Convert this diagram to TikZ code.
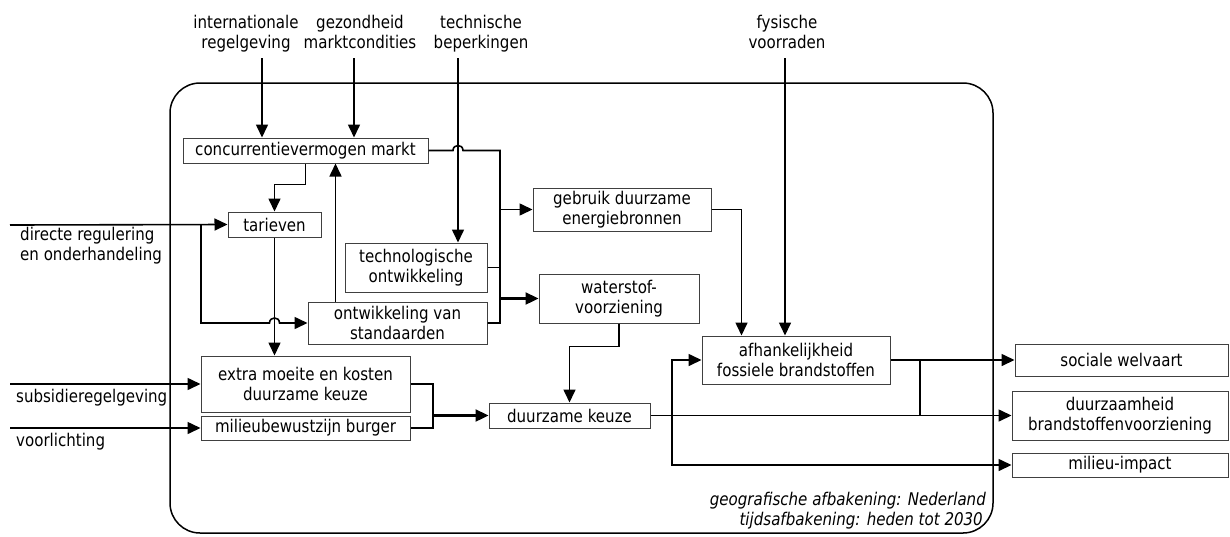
\documentclass[tikz,border=0pt]{standalone}
\usepackage{fontspec}
\setmainfont{DejaVu Sans}[FakeStretch=0.86]
\usetikzlibrary{arrows.meta}
\begin{document}
\begin{tikzpicture}[x=1pt,y=-1pt,
  every node/.style={font=\fontsize{17.5}{20}\selectfont},
  box/.style={draw=black!75, line width=1pt, align=center, inner sep=0pt},
  lab/.style={align=center, inner sep=0pt},
  conn/.style={line width=1.6pt, draw=black},
  arr/.style={conn, -{Triangle[length=13pt,width=12pt]}},
  thickarr/.style={arr, line width=2.3pt},
]
\useasboundingbox (0,0) rectangle (1230,536);

% frame
\draw[line width=1.5pt, rounded corners=30pt] (170,83) rectangle (993,533);

% boxes
\node[box, minimum width=245pt, minimum height=25pt] (conc) at (305.5,150.5) {concurrentievermogen markt};
\node[box, minimum width=93pt, minimum height=25pt] (tar) at (274.5,224.5) {tarieven};
\node[box, minimum width=142pt, minimum height=49pt] (tech) at (416,267.5) {technologische\\ontwikkeling};
\node[box, minimum width=179pt, minimum height=42pt] (ontw) at (397.5,323) {ontwikkeling van\\standaarden};
\node[box, minimum width=209pt, minimum height=56pt] (extra) at (305.5,384) {extra moeite en kosten\\duurzame keuze};
\node[box, minimum width=209pt, minimum height=24pt] (milb) at (305.5,428) {milieubewustzijn burger};
\node[box, minimum width=178pt, minimum height=43pt] (gebr) at (622,209.5) {gebruik duurzame\\energiebronnen};
\node[box, minimum width=160pt, minimum height=49pt] (water) at (619,298.5) {waterstof-\\voorziening};
\node[box, minimum width=161pt, minimum height=25pt] (dk) at (569.5,415.5) {duurzame keuze};
\node[box, minimum width=188pt, minimum height=48pt] (afh) at (796,360) {afhankelijkheid\\fossiele brandstoffen};
\node[box, minimum width=213pt, minimum height=32pt] (soc) at (1121.5,360) {sociale welvaart};
\node[box, minimum width=216pt, minimum height=49pt] (duurz) at (1120,415.5) {duurzaamheid\\brandstoffenvoorziening};
\node[box, minimum width=216pt, minimum height=24pt] (mimp) at (1120,465) {milieu-impact};

% outside labels
\node[lab, anchor=base] (intl) at (246,48) {internationale\\regelgeving};
\node[lab, anchor=base] (gez) at (360,48) {gezondheid\\marktcondities};
\node[lab, anchor=base] (techn) at (481,48) {technische\\beperkingen};
\node[lab, anchor=base] (fys) at (787,48) {fysische\\voorraden};
\node[lab, align=left, anchor=base west] (dir) at (20,260) {directe regulering\\en onderhandeling};
\node[lab, anchor=base west] (subs) at (16,402) {subsidieregelgeving};
\node[lab, anchor=base west] (voorl) at (16,446) {voorlichting};
\node[lab, anchor=base east, font=\fontsize{17.5}{20}\selectfont\itshape] (geo) at (986,505) {geografische afbakening: Nederland};
\node[lab, anchor=base east, font=\fontsize{17.5}{20}\selectfont\itshape] (tijd) at (983,525) {tijdsafbakening: heden tot 2030};

% free ends
\coordinate (intlS) at (262,58);
\coordinate (gezS) at (354,58);
\coordinate (technS) at (458,58);
\coordinate (fysS) at (785,58);
\coordinate (dirS) at (10,225);
\coordinate (subsS) at (10,384);
\coordinate (voorlS) at (10,428);

% top inputs
\draw[arr] (intlS) -- (intlS |- conc.north);
\draw[arr] (gezS) -- (gezS |- conc.north);
\draw[arr] (technS) -- (technS |- tech.north);
\draw[arr] (fysS) -- (fysS |- afh.north);

% concurrentievermogen trunk
\draw[conn] (conc.east) -- (453,150.5) .. controls (453,143.8) and (463,143.8) .. (463,150.5)
  -- (500,150.5) -- (500,323) -- (ontw.east);
\draw[conn] (tech.east) -- (500,267.5);
\draw[arr] (500,209.5) -- (gebr.west);
\draw[thickarr] (500,298.5) -- (water.west);

% conc -> tarieven
\draw[arr] (conc.south) -- ++(0,21) -| (tar.north);
% ontwikkeling -> conc
\draw[arr] ([xshift=28pt]ontw.north west) -- ([xshift=28pt]ontw.north west |- conc.south);

% directe regulering
\draw[arr] (dirS) -- (tar.west);
\draw[arr] (201,225) -- (201,323) -- (269.5,323) .. controls (269.5,316.3) and (279.5,316.3) .. (279.5,323) -- (ontw.west);

% tarieven -> extra
\draw[arr] (tar.south) -- (tar.south |- extra.north);

% left inputs
\draw[arr] (subsS) -- (extra.west);
\draw[arr] (voorlS) -- (milb.west);

% extra & milieubewustzijn -> duurzame keuze
\draw[conn] (extra.east) -- (433,384) -- (433,428) -- (milb.east);
\draw[thickarr] (433,415.5) -- (dk.west);

% waterstof -> duurzame keuze
\draw[arr] (water.south) -- ++(0,23) -| (dk.north);

% gebruik -> afhankelijkheid
\draw[arr] (gebr.east) -| ([xshift=40pt]afh.north west);

% duurzame keuze outputs
\draw[arr] (dk.east) -- (duurz.west);
\draw[arr] (672,415.5) |- (afh.west);
\draw[arr] (672,415.5) |- (mimp.west);

% afhankelijkheid outputs
\draw[arr] (afh.east) -- (soc.west);
\draw[conn] (920,360) -- (920,415.5);
\end{tikzpicture}
\end{document}
